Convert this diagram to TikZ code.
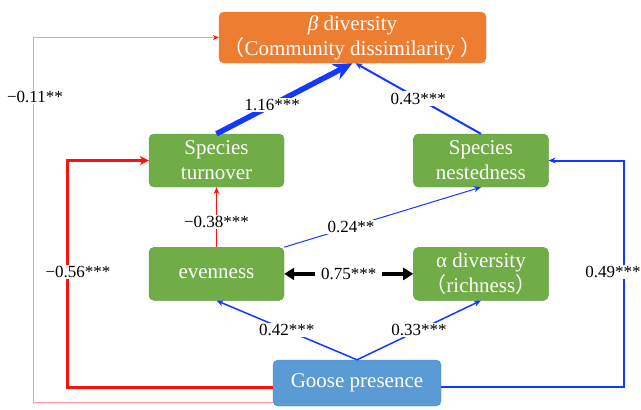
\documentclass[tikz,border=0pt]{standalone}
\usepackage{fontspec}
\setmainfont{Liberation Serif}
\newfontfamily\cjk{Noto Sans CJK SC}
\usepackage{tikz}
\usepackage{xcolor}
\definecolor{box_orange}{HTML}{ED7D31}
\definecolor{box_green}{HTML}{70AD47}
\definecolor{box_green_dark}{HTML}{5E9A3A}
\definecolor{box_blue}{HTML}{5B9BD5}
\definecolor{box_blue_dark}{HTML}{4A88C2}
\definecolor{path_blue}{HTML}{1438FF}
\definecolor{path_red}{HTML}{FF1010}
\definecolor{path_pink}{HTML}{FF9A9A}
\usetikzlibrary{positioning,calc,arrows.meta}
\tikzset{BOX/.style={rectangle,rounded corners=5pt,draw=box_green_dark,fill=box_green,text=white,align=center,minimum width=135pt,minimum height=53pt,inner sep=0pt,font=\fontsize{21}{25}\selectfont}}
\tikzset{COEF/.style={fill=white,text=black,inner sep=1.5pt,font=\fontsize{17}{20}\selectfont}}
\tikzset{ARROW/.style={-{Stealth[length=7pt,width=6pt]}}}
\tikzset{PATH_RED/.style={ARROW,path_red}}
\tikzset{PATH_BLUE/.style={ARROW,path_blue}}

\begin{document}
\begin{tikzpicture}[x=1pt,y=1pt]
\useasboundingbox (0,0) rectangle (641,-410);

\node[BOX, fill=box_orange, draw=box_orange, minimum width=267pt, minimum height=51pt] (n_beta) at (352.5,-37.5) {{\itshape β} diversity\\{\cjk （}Community dissimilarity {\cjk ）}};
\node[BOX] (n_turnover) at (216.5,-160.5) {Species\\turnover};
\node[BOX, right=129pt of n_turnover] (n_nested) {Species\\nestedness};
\node[BOX, below=60pt of n_turnover] (n_even) {evenness};
\node[BOX, right=129pt of n_even] (n_alpha) {α diversity\\{\cjk （}richness{\cjk ）}};
\node[BOX, fill=box_blue, draw=box_blue_dark, minimum width=168pt, minimum height=46pt] (n_goose) at (357,-383) {Goose presence};

% goose presence -> outer paths
\coordinate (c_goose_thin) at ($(n_goose.west)+(0,-19)$);
\coordinate (c_goose_red) at ($(n_goose.west)+(0,-4)$);
\coordinate (c_goose_blue) at ($(n_goose.east)+(0,-4)$);
\coordinate (c_left_thin) at (33,0);
\coordinate (c_left_red) at (67.5,0);
\coordinate (c_right_blue) at (624,0);

\draw[ARROW, path_pink, line width=0.8pt, -{Stealth[length=6pt,width=5pt,color=path_red]}] (c_goose_thin) -- (c_goose_thin-|c_left_thin) |- (n_beta.west);
\draw[PATH_RED, line width=3pt, -{Stealth[length=9pt,width=9pt]}] (c_goose_red) -- (c_goose_red-|c_left_red) |- (n_turnover.west);
\draw[PATH_BLUE, line width=2pt] (c_goose_blue) -- (c_goose_blue-|c_right_blue) |- (n_nested.east);

\node[COEF] (l_goose_beta) at (35,-97) {−0.11**};
\node[COEF] (l_goose_turnover) at (78,-272) {−0.56***};
\node[COEF] (l_goose_nested) at (613,-272) {0.49***};

% goose presence -> alpha level
\draw[PATH_BLUE, line width=1.5pt] (n_goose.north) -- (n_even.south) node[COEF, midway] (l_goose_even) {0.42***};
\draw[PATH_BLUE, line width=1.5pt] (n_goose.north) -- (n_alpha.south) node[COEF, midway] (l_goose_alpha) {0.33***};

% evenness and richness
\draw[line width=3.5pt, {Triangle[length=10pt,width=12pt]}-{Triangle[length=10pt,width=12pt]}] (n_even.east) -- (n_alpha.west) node[COEF, midway, inner xsep=6pt] (l_even_alpha) {0.75***};
\draw[PATH_RED, line width=1.5pt] (n_even.north) -- (n_turnover.south) node[COEF, pos=0.42] (l_even_turnover) {−0.38***};
\draw[PATH_BLUE, line width=1pt] (n_even.north east) -- (n_nested.south) node[COEF, pos=0.34] (l_even_nested) {0.24**};

% components -> beta diversity
\draw[PATH_BLUE, line width=5.5pt, -{Stealth[length=19pt,width=17pt]}] (n_turnover.north) -- (n_beta.south) node[COEF, pos=0.41] (l_turnover_beta) {1.16***};
\draw[PATH_BLUE, line width=2pt] (n_nested.north) -- ($(n_beta.south)+(3,0)$) node[COEF, midway] (l_nested_beta) {0.43***};

\end{tikzpicture}
\end{document}
